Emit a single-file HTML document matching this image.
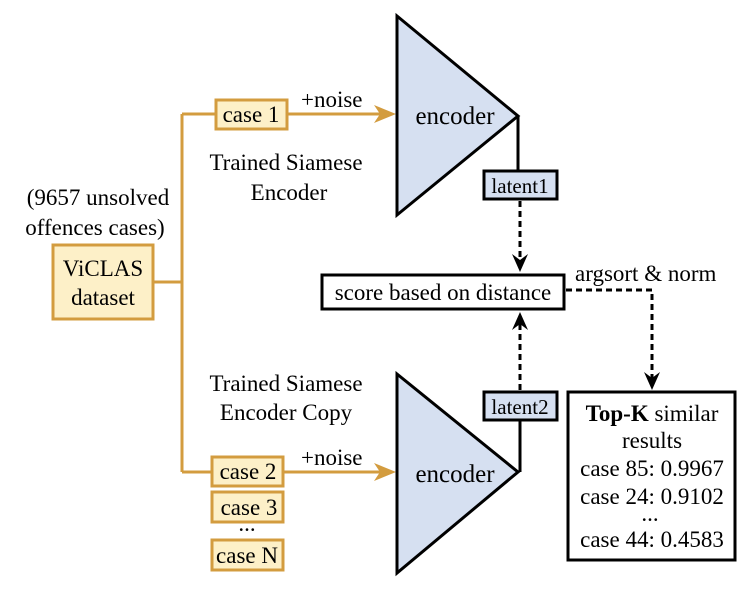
<!DOCTYPE html>
<html><head><style>body{margin:0;background:#fff}svg{display:block}</style></head><body>
<svg width="747" height="590" xmlns="http://www.w3.org/2000/svg" font-family="Liberation Serif, serif" font-size="23" fill="#000">
<g stroke="#d39c3f" stroke-width="3" fill="none">
<path d="M154,282 H182 M182,114 V472 M182,114 H216 M182,472 H212 M287,114 H380 M284,472 H380"/>
</g>
<path d="M396,114 L374,105 L380,114 L374,123z" fill="#d39c3f"/>
<path d="M396,472 L374,463 L380,472 L374,481z" fill="#d39c3f"/>
<g fill="#fdf0c8" stroke="#d39c3f" stroke-width="3">
<rect x="53" y="245" width="100" height="74"/>
<rect x="216" y="100" width="71" height="29"/>
<rect x="212" y="457" width="71" height="29"/>
<rect x="212" y="492" width="71" height="30"/>
<rect x="212" y="540" width="71" height="30"/>
</g>
<g text-anchor="middle">
<text x="103" y="276">ViCLAS</text><text x="103" y="305">dataset</text>
<text x="98" y="205">(9657 unsolved</text><text x="95" y="235">offences cases)</text>
<text x="251" y="122">case 1</text>
<text x="248" y="479">case 2</text>
<text x="249" y="515">case 3</text>
<text x="247" y="531">...</text>
<text x="247" y="563">case N</text>
<text x="286" y="170">Trained Siamese</text><text x="289" y="200">Encoder</text>
<text x="286" y="391">Trained Siamese</text><text x="286" y="420">Encoder Copy</text>
</g>
<text x="301" y="107">+noise</text>
<text x="301" y="465">+noise</text>
<g fill="#d6e0f1" stroke="#000" stroke-width="3">
<path d="M397,16 L518,116 L397,215z"/>
<path d="M397,374 L518,472 L397,573z"/>
</g>
<text x="455" y="124" font-size="25" text-anchor="middle">encoder</text>
<text x="455" y="482" font-size="25" text-anchor="middle">encoder</text>
<g stroke="#000" stroke-width="3" fill="none">
<path d="M518,116 V171 M520,421 V472"/>
</g>
<g fill="#d6e0f1" stroke="#000" stroke-width="3">
<rect x="484" y="171" width="73" height="28"/>
<rect x="484" y="392" width="73" height="28"/>
</g>
<text x="520" y="193" text-anchor="middle" font-size="21">latent1</text>
<text x="520" y="414" text-anchor="middle" font-size="21">latent2</text>
<g stroke="#000" stroke-width="3" fill="none" stroke-dasharray="6,4">
<path d="M520,201 V262 M520,390 V322 M566,290 H652 V378"/>
</g>
<path d="M520,272 L512,254 L520,260 L528,254z"/>
<path d="M520,312 L512,330 L520,324 L528,330z"/>
<path d="M652,390 L644,372 L652,378 L660,372z"/>
<rect x="322" y="275" width="242" height="34" fill="#fff" stroke="#000" stroke-width="3"/>
<text x="443" y="300" text-anchor="middle">score based on distance</text>
<text x="575" y="281">argsort &amp; norm</text>
<rect x="568" y="392" width="167" height="168" fill="#fff" stroke="#000" stroke-width="3"/>
<g text-anchor="middle">
<text x="652" y="421"><tspan font-weight="bold">Top-K</tspan> similar</text>
<text x="652" y="448">results</text>
<text x="652" y="476">case 85: 0.9967</text>
<text x="652" y="504">case 24: 0.9102</text>
<text x="650" y="521">...</text>
<text x="652" y="547">case 44: 0.4583</text>
</g>
</svg>
</body></html>
